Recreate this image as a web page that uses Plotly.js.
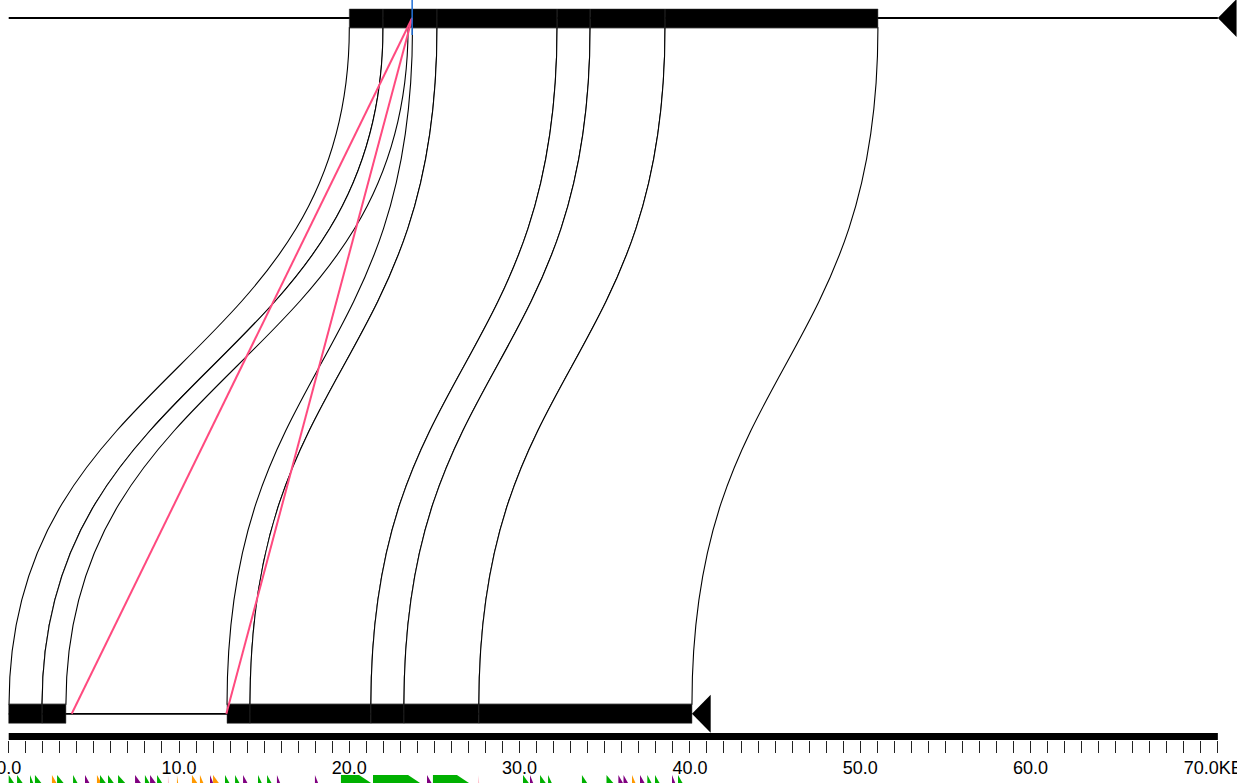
<!DOCTYPE html>
<html><head><meta charset="utf-8">
<script src="https://cdn.plot.ly/plotly-3.0.1.min.js"></script>
<style>html,body{margin:0;padding:0;background:#fff;overflow:hidden}#chart{width:1237px;height:783px}</style>
</head><body><div id="chart"></div>
<script>
// ---- data (kb) ----
const topSeqLength = 71.0;
const bottomSeqLength = 40.12;

const topBlockStart = [20.0, 21.98, 23.71, 25.15, 32.20, 34.14, 38.54];
const topBlockEnd   = [21.98, 23.71, 25.15, 32.20, 34.14, 38.54, 51.04];
const botBlockStart = [0.0, 1.96, 12.82, 14.17, 21.27, 23.21, 27.61];
const botBlockEnd   = [1.96, 3.36, 14.17, 21.27, 23.21, 27.61, 40.12];

// homologous ribbons: top [start,end] -> bottom [start,end]
const ribTopStart = [20.0, 21.98, 23.71, 25.15, 32.20, 34.14, 38.54];
const ribTopEnd   = [21.98, 23.45, 25.15, 32.20, 34.14, 38.54, 51.04];
const ribBotStart = [0.02, 1.96, 12.82, 14.17, 21.27, 23.21, 27.61];
const ribBotEnd   = [1.96, 3.36, 14.17, 21.27, 23.21, 27.61, 40.12];

// inverted / point links (pink)
const linkTop = [23.69, 23.69];
const linkBot = [3.70, 12.78];
// marker on top sequence (blue)
const markerPos = [23.69];

// scale bar
const scaleLength = 71;
const scaleTickVals = Array.from({length: 72}, (_, i) => i);
const scaleTickText = scaleTickVals.map(v => v % 10 === 0 ? (v === 70 ? '\u00a0\u00a0\u00a0\u00a0\u00a070.0KB' : v.toFixed(1)) : '');

// gene annotation strip (partially visible): start, end (kb), colour
const geneStart = [0.0, 0.49, 1.25, 1.54, 2.54, 2.84, 3.78, 4.48, 5.18, 5.36, 5.83, 6.42, 7.42, 8.00, 8.30, 8.71, 9.35, 9.88, 10.76, 11.23, 11.82, 12.0, 12.70, 13.29, 13.76, 14.64, 15.17, 15.75, 17.98, 19.51, 21.39, 24.56, 24.91, 27.56, 30.2, 30.61, 31.2, 31.67, 33.66, 35.1, 35.8, 36.1, 36.6, 37.07, 37.5, 37.95, 38.95, 39.3];
const geneEnd   = [0.47, 0.98, 1.54, 2.11, 2.94, 3.41, 4.17, 4.87, 5.58, 5.87, 6.34, 7.05, 7.93, 8.40, 8.81, 9.16, 9.45, 9.98, 11.23, 11.53, 12.1, 12.51, 13.09, 13.68, 14.15, 14.97, 15.56, 16.03, 18.26, 21.63, 24.51, 24.96, 27.38, 27.66, 30.71, 30.89, 31.7, 32.0, 34.12, 35.7, 36.2, 36.5, 36.9, 37.47, 37.87, 38.35, 39.23, 39.7];
const geneColor = ['g','g','g','g','o','g','g','p','o','g','g','g','p','g','p','g','k','o','o','o','p','o','g','g','p','g','g','p','p','g','g','p','g','k','g','p','g','g','g','g','p','p','o','p','g','g','p','g'];

// ---- drawing ----
const Y_TOP = 18, TOP_B0 = 9, TOP_B1 = 27.7;
const Y_BOT = 713.8, BOT_B0 = 704.3, BOT_B1 = 723.3;
const Y_MID = (TOP_B1 + BOT_B0) / 2;
const ARROW_W = 1.1, ARROW_H = 19;
const COLORS = {g: '#00b000', o: '#ff9900', p: '#800080', k: '#ffc0cb'};

const shapes = [];
// ribbons
for (let i = 0; i < ribTopStart.length; i++) {
  const a = ribTopStart[i], b = ribTopEnd[i], c = ribBotStart[i], d = ribBotEnd[i];
  shapes.push({type: 'path', xref: 'x', yref: 'y', layer: 'above',
    path: `M ${a},${TOP_B1} C ${a},${Y_MID} ${c},${Y_MID} ${c},${BOT_B0} L ${d},${BOT_B0} C ${d},${Y_MID} ${b},${Y_MID} ${b},${TOP_B1} Z`,
    fillcolor: '#ffffff', line: {color: '#000', width: 1.1}});
}
// sequence lines
shapes.push({type: 'line', xref: 'x', yref: 'y', x0: 0, x1: topSeqLength, y0: Y_TOP, y1: Y_TOP, line: {color: '#000', width: 1.8}});
shapes.push({type: 'line', xref: 'x', yref: 'y', x0: 0, x1: bottomSeqLength, y0: Y_BOT, y1: Y_BOT, line: {color: '#000', width: 1.8}});
// blocks
for (let i = 0; i < topBlockStart.length; i++) {
  shapes.push({type: 'rect', xref: 'x', yref: 'y', x0: topBlockStart[i], x1: topBlockEnd[i], y0: TOP_B0, y1: TOP_B1,
    fillcolor: '#000', line: {color: '#333', width: 0.5}});
}
for (let i = 0; i < botBlockStart.length; i++) {
  shapes.push({type: 'rect', xref: 'x', yref: 'y', x0: botBlockStart[i], x1: botBlockEnd[i], y0: BOT_B0, y1: BOT_B1,
    fillcolor: '#000', line: {color: '#333', width: 0.5}});
}
// end arrows (pointing left)
function arrow(xTip, y) {
  return {type: 'path', xref: 'x', yref: 'y',
    path: `M ${xTip},${y} L ${xTip + ARROW_W},${y - ARROW_H} L ${xTip + ARROW_W},${y + ARROW_H} Z`,
    fillcolor: '#000', line: {width: 0}};
}
shapes.push(arrow(topSeqLength, Y_TOP));
shapes.push(arrow(bottomSeqLength, Y_BOT));
// pink links
for (let i = 0; i < linkTop.length; i++) {
  shapes.push({type: 'line', xref: 'x', yref: 'y', x0: linkTop[i], y0: Y_TOP, x1: linkBot[i], y1: Y_BOT,
    line: {color: '#ff4a7f', width: 2}});
}
// blue marker
markerPos.forEach(m => shapes.push({type: 'line', xref: 'x', yref: 'y', x0: m, x1: m, y0: 0, y1: 35,
  line: {color: '#1f6fd6', width: 1.5}}));
// scale bar
shapes.push({type: 'rect', xref: 'x', yref: 'y', x0: 0, x1: scaleLength, y0: 733, y1: 740, fillcolor: '#000', line: {width: 0}});
// genes (arrow shapes, only top part visible)
const G_TOP = 775, G_MID = 787, G_HEAD = 1.06;
for (let i = 0; i < geneStart.length; i++) {
  const s = geneStart[i], e = geneEnd[i];
  const h = Math.min(G_HEAD, e - s);
  shapes.push({type: 'path', xref: 'x', yref: 'y',
    path: `M ${s},${G_TOP} L ${e - h},${G_TOP} L ${e},${G_MID} L ${e - h},${2 * G_MID - G_TOP} L ${s},${2 * G_MID - G_TOP} Z`,
    fillcolor: COLORS[geneColor[i]], line: {width: 0}});
}

const layout = {
  width: 1237, height: 783,
  margin: {l: 0, r: 0, t: 0, b: 0, pad: 0},
  paper_bgcolor: '#fff', plot_bgcolor: '#fff',
  showlegend: false,
  xaxis: {range: [-0.511, 72.124], anchor: 'free', position: 43 / 783, side: 'bottom',
    showgrid: false, zeroline: false, showline: false,
    tickmode: 'array', tickvals: scaleTickVals, ticktext: scaleTickText,
    ticks: 'outside', ticklen: 11.7, tickwidth: 1, tickcolor: '#222',
    tickfont: {family: 'Liberation Sans, Arial, sans-serif', size: 18, color: '#000'},
    ticklabeloverflow: 'allow', fixedrange: true},
  yaxis: {range: [783, 0], visible: false, fixedrange: true},
  shapes: shapes
};
Plotly.newPlot('chart', [{x: [0], y: [0], mode: 'markers', marker: {opacity: 0}, hoverinfo: 'skip'}], layout,
  {staticPlot: true, displayModeBar: false});
</script>
</body></html>
